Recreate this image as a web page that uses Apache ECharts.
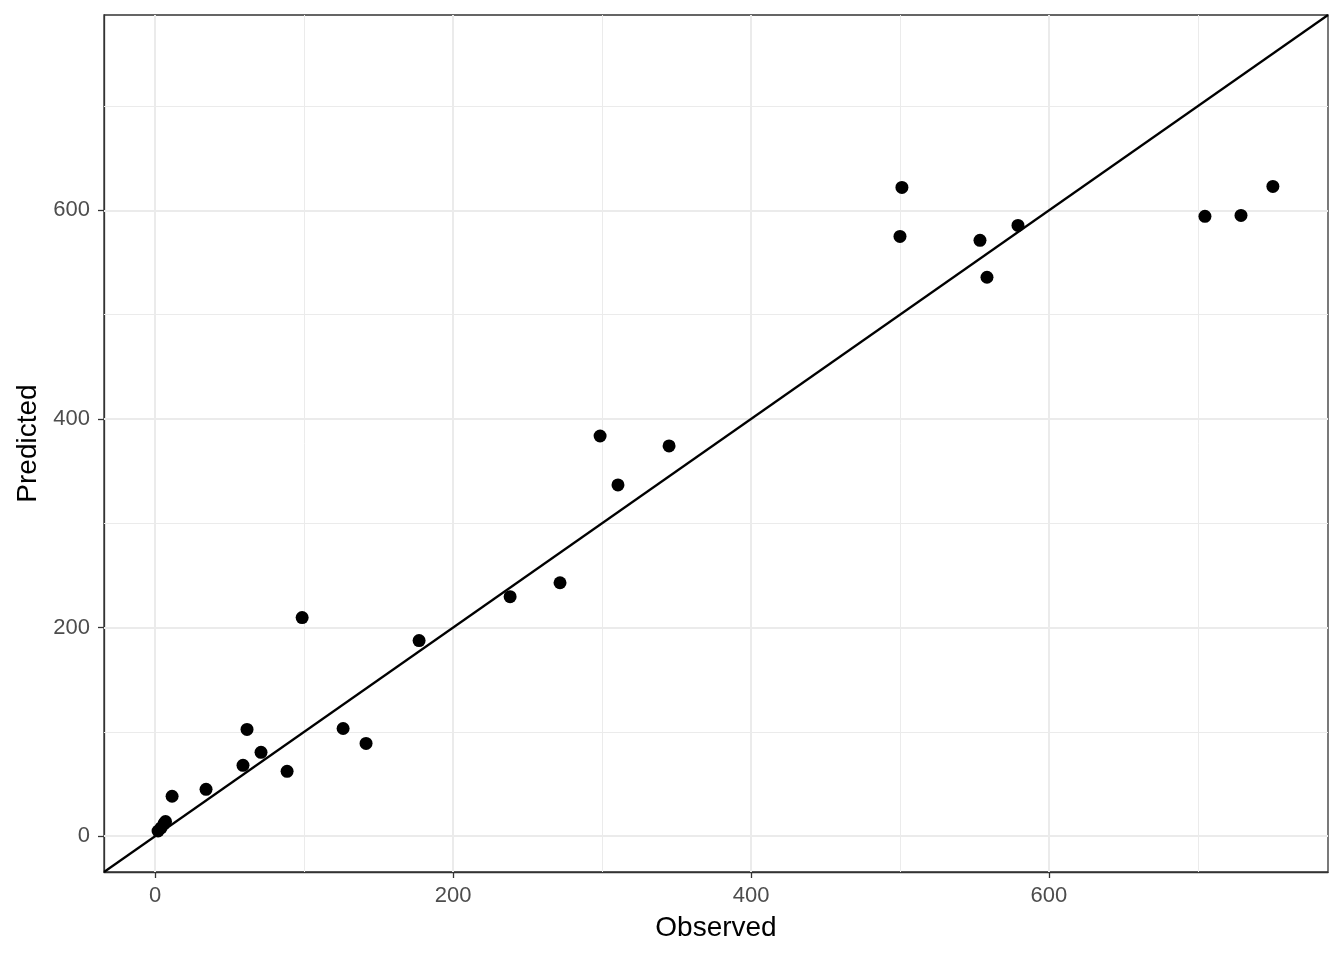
<!DOCTYPE html>
<html><head><meta charset="utf-8">
<script src="https://cdn.jsdelivr.net/npm/echarts@6/dist/echarts.min.js"></script>
<style>html,body{margin:0;padding:0;background:#fff}#c{width:1344px;height:960px}</style>
</head><body><div id="c"></div>
<script>
const observed  = [2, 4, 6, 7, 11.4, 34.2, 59, 61.7, 71.1, 88.6, 98.7, 126.2, 141.6, 177.2, 238.3, 271.8, 298.7, 310.7, 345, 500, 501.3, 553.7, 558.4, 579.2, 704.7, 728.9, 750.3];
const predicted = [5, 8, 12, 14, 38.3, 45, 68, 102.4, 80.4, 62.2, 209.6, 103.3, 89, 187.6, 229.7, 243, 383.7, 336.8, 374.2, 575, 622, 571.3, 535.9, 585.6, 594.3, 595.2, 623];
const majorTicks = [0, 200, 400, 600];
const minorTicks = [100, 300, 500, 700];
const axisMin = -34.3, axisMax = 787.3;

const pts = observed.map((x, i) => [x, predicted[i]]);
const gridLines = [];
minorTicks.forEach(v => { gridLines.push({xAxis: v, lineStyle:{width:1}}); gridLines.push({yAxis: v, lineStyle:{width:1}}); });
majorTicks.forEach(v => { gridLines.push({xAxis: v, lineStyle:{width:2}}); gridLines.push({yAxis: v, lineStyle:{width:2}}); });

const font = 'Liberation Sans, Arial, Helvetica, sans-serif';
const axisCommon = {
  type: 'value', min: axisMin, max: axisMax,
  splitLine: {show: false},
  axisLine: {show: true, onZero: false, lineStyle: {color: '#333333', width: 1.3}},
  axisTick: {show: true, customValues: majorTicks, length: 6, lineStyle: {color: '#333333', width: 1.3}},
  axisLabel: {customValues: majorTicks, color: '#4d4d4d', fontSize: 22, fontFamily: font},
  nameLocation: 'middle',
  nameTextStyle: {color: '#000', fontSize: 28, fontFamily: font}
};
const chart = echarts.init(document.getElementById('c'));
chart.setOption({
  animation: false,
  backgroundColor: '#fff',
  grid: {left: 104, right: 16, top: 15, bottom: 88, show: true, borderColor: '#333333', borderWidth: 1.3, backgroundColor: 'transparent'},
  xAxis: Object.assign({}, axisCommon, {name: 'Observed', nameGap: 42, axisLabel: Object.assign({}, axisCommon.axisLabel, {margin: 13})}),
  yAxis: Object.assign({}, axisCommon, {name: 'Predicted', nameGap: 62, axisLabel: Object.assign({}, axisCommon.axisLabel, {margin: 14})}),
  series: [
    {type: 'scatter', data: [], z: 1, silent: true,
     markLine: {silent: true, z: 1, symbol: 'none', label: {show: false}, animation: false,
       lineStyle: {color: '#ebebeb', type: 'solid'}, data: gridLines}},
    {type: 'line', data: [[axisMin, axisMin], [axisMax, axisMax]], showSymbol: false, symbol: 'none',
     lineStyle: {color: '#000', width: 2.2}, z: 6, silent: true},
    {type: 'scatter', data: pts, symbolSize: 13, itemStyle: {color: '#000', opacity: 1}, z: 7}
  ]
});
</script></body></html>
